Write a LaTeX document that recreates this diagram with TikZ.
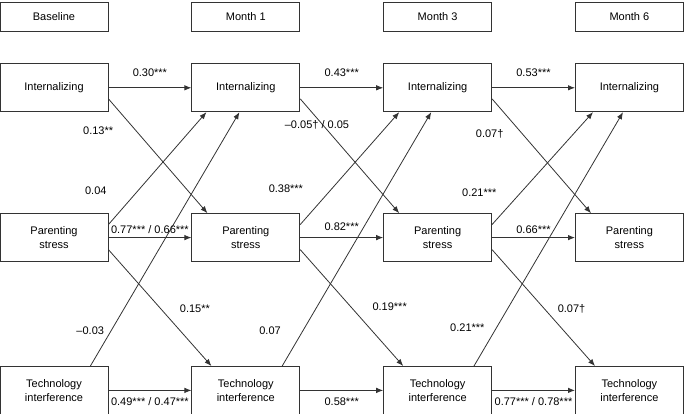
\documentclass[tikz,border=0pt]{standalone}
\usepackage{fontspec}
\setmainfont{Liberation Sans}
\usetikzlibrary{positioning,arrows.meta}

\begin{document}
\begin{tikzpicture}[x=1pt, y=1pt, >={Latex[length=7pt,width=5.5pt]},
                    main node/.style={rectangle, draw=black!80, line width=0.8pt, minimum width=108pt, minimum height=48pt, align=center, inner sep=2pt, font=\fontsize{11}{13.5}\selectfont},
                    time node/.style={main node, minimum height=29pt},
                    arc/.style={->, every edge/.append style={draw=black!80, line width=0.8pt}}]

  \useasboundingbox (0,0) rectangle (685,-414);

  \node[time node] (b0) at (54,-16.5) {Baseline};
  \node[time node] (m1) [right=83pt of b0] {Month 1};
  \node[time node] (m3) [right=83pt of m1] {Month 3};
  \node[time node] (m6) [right=83pt of m3] {Month 6};

  \node[main node] (i0) [below=32pt of b0] {Internalizing};
  \node[main node] (i1) [right=83pt of i0] {Internalizing};
  \node[main node] (i3) [right=83pt of i1] {Internalizing};
  \node[main node] (i6) [right=83pt of i3] {Internalizing};

  \node[main node] (p0) [below=101pt of i0] {Parenting\\stress};
  \node[main node] (p1) [right=83pt of p0] {Parenting\\stress};
  \node[main node] (p3) [right=83pt of p1] {Parenting\\stress};
  \node[main node] (p6) [right=83pt of p3] {Parenting\\stress};

  \node[main node] (t0) [below=104pt of p0] {Technology\\interference};
  \node[main node] (t1) [right=83pt of t0] {Technology\\interference};
  \node[main node] (t3) [right=83pt of t1] {Technology\\interference};
  \node[main node] (t6) [right=83pt of t3] {Technology\\interference};

  \path[arc, every node/.style={inner sep=1pt, font=\fontsize{11}{13}\selectfont}]
    % stability paths
    (i0) edge node[above=10pt] {0.30***} (i1)
    (i1) edge node[above=10pt] {0.43***} (i3)
    (i3) edge node[above=10pt] {0.53***} (i6)

    (p0) edge node[above=3pt] {0.77*** / 0.66***} (p1)
    (p1) edge node[above=6pt] {0.82***} (p3)
    (p3) edge node[above=3pt] {0.66***} (p6)

    (t0) edge node[below=6pt] {0.49*** / 0.47***} (t1)
    (t1) edge node[below=6pt] {0.58***} (t3)
    (t3) edge node[below=6pt] {0.77*** / 0.78***} (t6)

    % cross-lagged paths
    ([yshift=-11pt]i0.east) edge node[pos=0.28, xshift=-38pt] {0.13**} ([xshift=16pt]p1.north west)
    ([yshift=-11pt]i1.east) edge node[pos=0.23, xshift=-6pt] {–0.05† / 0.05} ([xshift=16pt]p3.north west)
    ([yshift=-11pt]i3.east) edge node[pos=0.31, xshift=-33pt] {0.07†} ([xshift=16pt]p6.north west)

    ([yshift=13pt]p0.east) edge node[pos=0.3, xshift=-42pt] {0.04} ([xshift=15pt]i1.south west)
    ([yshift=13pt]p1.east) edge node[pos=0.32, xshift=-46pt] {0.38***} ([xshift=16pt]i3.south west)
    ([yshift=13pt]p3.east) edge node[pos=0.28, xshift=-41pt] {0.21***} ([xshift=18pt]i6.south west)

    ([xshift=-18pt]t0.north east) edge node[pos=0.14, xshift=-21pt] {–0.03} ([xshift=48pt]i1.south west)
    ([xshift=-18pt]t1.north east) edge node[pos=0.14, xshift=-33pt] {0.07} ([xshift=48pt]i3.south west)
    ([xshift=-18pt]t3.north east) edge node[pos=0.15, xshift=-29pt] {0.21***} ([xshift=48pt]i6.south west)

    ([yshift=-12pt]p0.east) edge node[pos=0.51, xshift=34pt] {0.15**} ([xshift=20pt]t1.north west)
    ([yshift=-12pt]p1.east) edge node[pos=0.49, xshift=39pt] {0.19***} ([xshift=20pt]t3.north west)
    ([yshift=-12pt]p3.east) edge node[pos=0.51, xshift=27pt] {0.07†} ([xshift=20pt]t6.north west)
    ;

\end{tikzpicture}
\end{document}
